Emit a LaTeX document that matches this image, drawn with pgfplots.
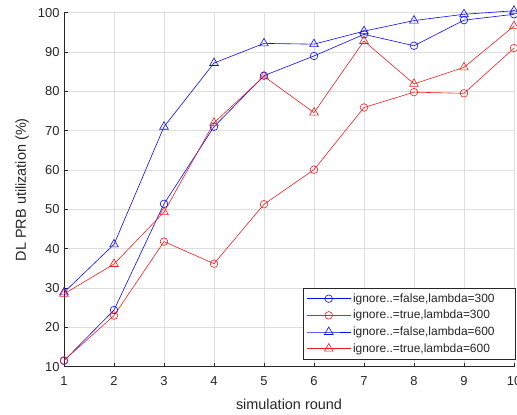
\documentclass[border=0pt]{standalone}
\usepackage{fontspec}
\setmainfont{Liberation Sans}
\usepackage{pgfplots}
\pgfplotsset{compat=1.18}
\definecolor{mblue}{RGB}{10,10,245}
\definecolor{mred}{RGB}{240,30,30}
\definecolor{axgray}{RGB}{38,38,38}
\definecolor{gridgray}{RGB}{222,222,222}
\begin{document}
\begin{tikzpicture}
\begin{axis}[
  name=ax,
  scale only axis,
  width=450bp, height=354bp,
  xmin=1, xmax=10, ymin=10, ymax=100,
  xtick={1,...,10}, ytick={10,20,...,100},
  grid=major,
  major grid style={gridgray, line width=0.5pt},
  axis x line*=bottom, axis y line*=left,
  axis line style={axgray, line width=0.6pt},
  tick style={axgray, line width=0.5pt},
  tick align=inside,
  major tick length=4bp,
  tick label style={font=\fontsize{13}{15}\selectfont, text=axgray},
  xticklabel style={yshift=-6bp},
  yticklabel style={xshift=-1bp},
  /pgf/number format/assume math mode=true,
  xlabel={simulation round}, ylabel={DL PRB utilization (\%)},
  label style={font=\fontsize{14.5}{17}\selectfont, text=axgray},
  xlabel style={at={(axis description cs:0.5,-0.106)}, anchor=center},
  ylabel style={at={(axis description cs:-0.093,0.5)}, anchor=center},
  clip=false,
  legend cell align=left,
  legend style={at={(1.004,0.022)}, anchor=south east, draw=axgray, fill=white,
    font=\fontsize{12}{14}\selectfont, text=axgray, row sep=2.5bp, inner sep=3bp},
  legend image code/.code={\draw[mark repeat=2,mark phase=2] plot coordinates {(0bp,0bp)(22bp,0bp)(44bp,0bp)};},
  every axis plot/.append style={line width=0.6pt, mark options={solid, line width=0.6pt}},
]
\addplot[mblue, mark=o, mark size=3.8bp] coordinates {
 (1,11.5) (2,24.4) (3,51.4) (4,71.0) (5,84.0) (6,89.0) (7,94.5) (8,91.6) (9,98.1) (10,99.6)};
\addlegendentry{ignore..=false,lambda=300\rule{16bp}{0pt}}
\addplot[mred, mark=o, mark size=3.8bp] coordinates {
 (1,11.6) (2,23.0) (3,41.8) (4,36.2) (5,51.3) (6,60.1) (7,75.9) (8,79.8) (9,79.5) (10,91.0)};
\addlegendentry{ignore..=true,lambda=300}
\addplot[mblue, mark=triangle, mark size=5bp] coordinates {
 (1,28.9) (2,41.1) (3,71.0) (4,87.2) (5,92.2) (6,92.0) (7,95.3) (8,98.0) (9,99.6) (10,100.5)};
\addlegendentry{ignore..=false,lambda=600}
\addplot[mred, mark=triangle, mark size=5bp] coordinates {
 (1,28.5) (2,36.1) (3,49.3) (4,72.0) (5,83.8) (6,74.6) (7,92.8) (8,81.9) (9,86.1) (10,96.6)};
\addlegendentry{ignore..=true,lambda=600}
\end{axis}
\pgfresetboundingbox
\path[use as bounding box] ([shift={(-64bp,-47.3bp)}]ax.south west) rectangle ([shift={(3bp,12.7bp)}]ax.north east);
\end{tikzpicture}
\end{document}
